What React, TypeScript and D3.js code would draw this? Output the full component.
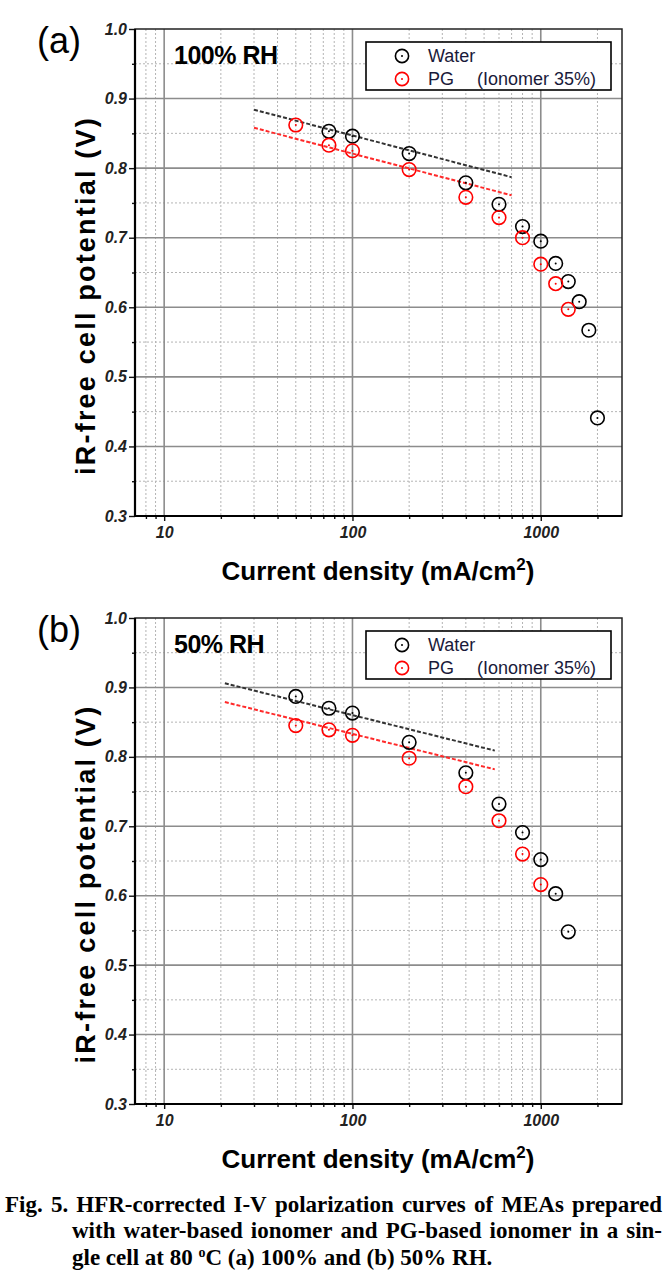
import { useEffect, useRef } from 'react';
import * as d3 from 'd3';

// Panel (a) 100% RH
const WATER_A_X = [75, 100, 200, 400, 600, 800, 1000, 1200, 1400, 1600, 1800, 2000];
const WATER_A_Y = [0.853, 0.846, 0.821, 0.779, 0.748, 0.716, 0.695, 0.663, 0.637, 0.608, 0.567, 0.441];
const PG_A_X = [50, 75, 100, 200, 400, 600, 800, 1000, 1200, 1400];
const PG_A_Y = [0.862, 0.833, 0.825, 0.798, 0.758, 0.729, 0.7, 0.662, 0.634, 0.597];
const FIT_WATER_A_X = [30, 700];
const FIT_WATER_A_Y = [0.884, 0.787];
const FIT_PG_A_X = [30, 700];
const FIT_PG_A_Y = [0.858, 0.761];

// Panel (b) 50% RH
const WATER_B_X = [50, 75, 100, 200, 400, 600, 800, 1000, 1200, 1400];
const WATER_B_Y = [0.887, 0.87, 0.863, 0.821, 0.777, 0.732, 0.691, 0.652, 0.603, 0.548];
const PG_B_X = [50, 75, 100, 200, 400, 600, 800, 1000];
const PG_B_Y = [0.845, 0.839, 0.831, 0.798, 0.757, 0.708, 0.66, 0.616];
const FIT_WATER_B_X = [21, 570];
const FIT_WATER_B_Y = [0.906, 0.809];
const FIT_PG_B_X = [21, 570];
const FIT_PG_B_Y = [0.879, 0.782];

// axes
const X_DOMAIN = [7, 2700];
const Y_DOMAIN = [0.3, 1.0];
const X_MAJOR = [10, 100, 1000];
const X_MINOR = [8, 9, 20, 30, 40, 50, 60, 70, 80, 90, 200, 300, 400, 500, 600, 700, 800, 900, 2000];
const Y_TICKS = [0.3, 0.4, 0.5, 0.6, 0.7, 0.8, 0.9, 1.0];
const Y_MINOR = [0.35, 0.45, 0.55, 0.65, 0.75, 0.85, 0.95];

const CAPTION = [
  'Fig. 5. HFR-corrected I-V polarization curves of MEAs prepared',
  'with water-based ionomer and PG-based ionomer in a sin-',
];

const SANS = 'Liberation Sans, Arial, sans-serif';
const SERIF = 'Liberation Serif, Times New Roman, serif';

const zip = (xs: number[], ys: number[]) => xs.map((x, i) => ({ x, y: ys[i] }));

const panels = [
  {
    label: '(a)', rh: '100% RH', top: 29, bottom: 516,
    water: zip(WATER_A_X, WATER_A_Y), pg: zip(PG_A_X, PG_A_Y),
    fitWater: zip(FIT_WATER_A_X, FIT_WATER_A_Y), fitPg: zip(FIT_PG_A_X, FIT_PG_A_Y),
  },
  {
    label: '(b)', rh: '50% RH', top: 618, bottom: 1104,
    water: zip(WATER_B_X, WATER_B_Y), pg: zip(PG_B_X, PG_B_Y),
    fitWater: zip(FIT_WATER_B_X, FIT_WATER_B_Y), fitPg: zip(FIT_PG_B_X, FIT_PG_B_Y),
  },
];

const LEFT = 135;
const RIGHT = 622;

const App = () => {
  const svgRef = useRef<SVGSVGElement>(null);

  useEffect(() => {
    if (!svgRef.current) return;
    const svg = d3.select(svgRef.current);
    svg.selectAll('*').remove();

    panels.forEach(p => {
      const x = d3.scaleLog().domain(X_DOMAIN).range([LEFT, RIGHT]);
      const y = d3.scaleLinear().domain(Y_DOMAIN).range([p.bottom, p.top]);
      const g = svg.append('g');

      // minor grid (dotted)
      g.selectAll('.vminor').data(X_MINOR).join('line')
        .attr('x1', d => x(d)).attr('x2', d => x(d))
        .attr('y1', p.top).attr('y2', p.bottom)
        .attr('stroke', '#b4b4b4').attr('stroke-width', 1).attr('stroke-dasharray', '2,2');
      g.selectAll('.hminor').data(Y_MINOR).join('line')
        .attr('x1', LEFT).attr('x2', RIGHT)
        .attr('y1', d => y(d)).attr('y2', d => y(d))
        .attr('stroke', '#b4b4b4').attr('stroke-width', 1).attr('stroke-dasharray', '2,2');

      // major grid
      g.selectAll('.vmajor').data(X_MAJOR).join('line')
        .attr('x1', d => x(d)).attr('x2', d => x(d))
        .attr('y1', p.top).attr('y2', p.bottom)
        .attr('stroke', '#8c8c8c').attr('stroke-width', 1.6);
      g.selectAll('.hmajor').data(Y_TICKS.slice(1, -1)).join('line')
        .attr('x1', LEFT).attr('x2', RIGHT)
        .attr('y1', d => y(d)).attr('y2', d => y(d))
        .attr('stroke', '#8c8c8c').attr('stroke-width', 1.6);

      // axes
      const xAxis = g.append('g').attr('transform', `translate(0,${p.bottom})`)
        .call(d3.axisBottom(x).tickValues(X_MAJOR).tickSize(5).tickPadding(6)
          .tickFormat(d => String(d)));
      g.append('g').attr('transform', `translate(0,${p.bottom})`)
        .call(d3.axisBottom(x).tickValues(X_MINOR).tickSize(3).tickFormat(() => ''));
      const yAxis = g.append('g').attr('transform', `translate(${LEFT},0)`)
        .call(d3.axisLeft(y).tickValues(Y_TICKS).tickSize(6).tickPadding(2)
          .tickFormat(d3.format('.1f')));
      g.append('g').attr('transform', `translate(${LEFT},0)`)
        .call(d3.axisLeft(y).tickValues(Y_MINOR).tickSize(3).tickFormat(() => ''));
      g.selectAll('.domain').remove();
      g.selectAll('.tick line').attr('stroke', '#111').attr('stroke-width', 1.4);
      [xAxis, yAxis].forEach(a => a.selectAll('text')
        .style('font-family', SANS).style('font-size', '16px')
        .style('font-weight', 'bold').style('font-style', 'italic').attr('fill', '#222'));

      // frame
      g.append('rect').attr('x', LEFT).attr('y', p.top)
        .attr('width', RIGHT - LEFT).attr('height', p.bottom - p.top)
        .attr('fill', 'none').attr('stroke', '#222').attr('stroke-width', 1.5);
      g.append('line').attr('x1', LEFT).attr('x2', LEFT).attr('y1', p.top).attr('y2', p.bottom)
        .attr('stroke', '#000').attr('stroke-width', 2.2);
      g.append('line').attr('x1', LEFT - 1).attr('x2', RIGHT).attr('y1', p.bottom).attr('y2', p.bottom)
        .attr('stroke', '#000').attr('stroke-width', 2.2);

      // fit lines
      const line = d3.line<{ x: number; y: number }>().x(d => x(d.x)).y(d => y(d.y));
      g.append('path').attr('d', line(p.fitWater)).attr('fill', 'none')
        .attr('stroke', '#333').attr('stroke-width', 2).attr('stroke-dasharray', '4,2');
      g.append('path').attr('d', line(p.fitPg)).attr('fill', 'none')
        .attr('stroke', '#ff2a2a').attr('stroke-width', 2).attr('stroke-dasharray', '4,2');

      // markers
      const marker = (data: { x: number; y: number }[], color: string) => {
        const m = g.append('g').selectAll('g').data(data).join('g')
          .attr('transform', d => `translate(${x(d.x)},${y(d.y)})`);
        m.append('circle').attr('r', 6.8).attr('fill', 'none')
          .attr('stroke', color).attr('stroke-width', 1.6);
        m.append('circle').attr('r', 1).attr('fill', color);
      };
      marker(p.water, '#000');
      marker(p.pg, '#ff0000');

      // legend
      const lg = g.append('g').attr('transform', `translate(366,${p.top + 13})`);
      lg.append('rect').attr('width', 245).attr('height', 48)
        .attr('fill', '#fff').attr('stroke', '#000').attr('stroke-width', 1.6);
      [{ c: '#000', t: 'Water', yy: 14, ty: 19.5 }, { c: '#ff0000', t: 'PG', yy: 37, ty: 42.5 }].forEach(it => {
        lg.append('circle').attr('cx', 36).attr('cy', it.yy).attr('r', 6.6)
          .attr('fill', 'none').attr('stroke', it.c).attr('stroke-width', 1.6);
        lg.append('circle').attr('cx', 36).attr('cy', it.yy).attr('r', 1).attr('fill', it.c);
        lg.append('text').attr('x', 62).attr('y', it.ty).text(it.t)
          .style('font-family', SANS).style('font-size', '18px').attr('fill', '#1a1a3a');
      });
      lg.append('text').attr('x', 111).attr('y', 42.5).text('(Ionomer 35%)')
        .style('font-family', SANS).style('font-size', '18px').attr('fill', '#1a1a3a');

      // RH label
      g.append('text').attr('x', 174).attr('y', p.top + 35).text(p.rh)
        .style('font-family', SANS).style('font-size', '25px').style('font-weight', 'bold')
        .style('letter-spacing', '-0.5px');

      // panel label
      g.append('text').attr('x', 37).attr('y', p.top + 24).text(p.label)
        .style('font-family', SANS).style('font-size', '36px');

      // x label
      const xl = g.append('text').attr('x', 378).attr('y', p.bottom + 64)
        .attr('text-anchor', 'middle')
        .style('font-family', SANS).style('font-size', '26px').style('font-weight', 'bold');
      xl.append('tspan').text('Current density (mA/cm');
      xl.append('tspan').text('2').attr('dy', -10).style('font-size', '17px');
      xl.append('tspan').text(')').attr('dy', 10);

      // y label
      g.append('text')
        .attr('transform', `translate(95,${(p.top + p.bottom) / 2 + 23}) rotate(-90)`)
        .attr('text-anchor', 'middle').text('iR-free cell potential (V)')
        .style('font-family', SANS).style('font-size', '27px').style('font-weight', 'bold')
        .style('letter-spacing', '2.2px');
    });

    // caption, justified lines
    const cap = svg.append('g')
      .style('font-family', SERIF).style('font-size', '23px').style('font-weight', 'bold');
    const justify = (text: string, x0: number, x1: number, yy: number) => {
      const words = text.split(' ');
      const nodes = words.map(w => cap.append('text').attr('y', yy).text(w));
      const widths = nodes.map(n => (n.node() as SVGTextElement).getComputedTextLength());
      const total = d3.sum(widths);
      const gap = (x1 - x0 - total) / (words.length - 1);
      let cx = x0;
      nodes.forEach((n, i) => {
        n.attr('x', cx);
        cx += widths[i] + gap;
      });
    };
    justify(CAPTION[0], 5, 662, 1211.5);
    justify(CAPTION[1], 72, 662, 1238.3);
    const l3 = cap.append('text').attr('x', 72).attr('y', 1265);
    l3.append('tspan').text('gle cell at 80 ');
    l3.append('tspan').text('o').attr('dy', -8).style('font-size', '14px');
    l3.append('tspan').text('C (a) 100% and (b) 50% RH.').attr('dy', 8);
  }, []);

  return (
    <div style={{ position: 'absolute', left: 0, top: 0, background: '#fff' }}>
      <svg ref={svgRef} width={669} height={1284} style={{ display: 'block' }} />
    </div>
  );
};

export default App;
